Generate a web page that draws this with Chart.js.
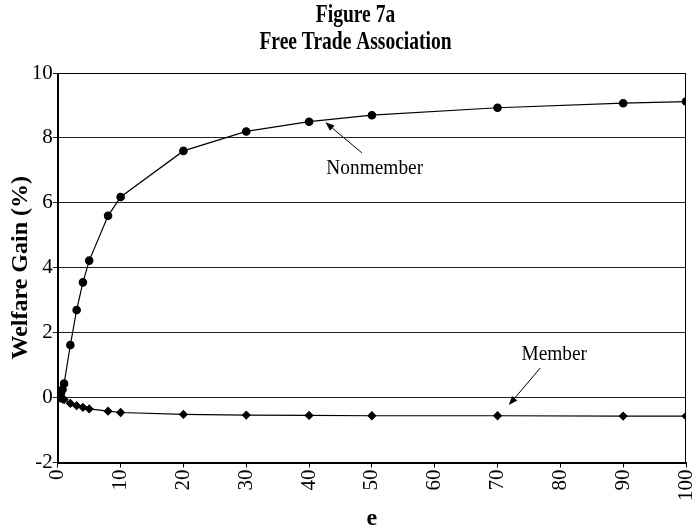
<!DOCTYPE html>
<html>
<head>
<meta charset="utf-8">
<script src="https://cdn.jsdelivr.net/npm/chart.js@4"></script>
<style>
  html, body { margin: 0; padding: 0; background: #fff; }
</style>
</head>
<body>
<canvas id="chartWelfare" width="695" height="531"></canvas>
<script>
// e values shared by both series
const eValues = [0.25, 0.5, 0.75, 1, 2, 3, 4, 5, 8, 10, 20, 30, 40, 50, 70, 90, 100];
const nonmemberGain = [0.04, 0.13, 0.25, 0.43, 1.62, 2.7, 3.55, 4.22, 5.6, 6.18, 7.6, 8.2, 8.5, 8.7, 8.93, 9.07, 9.12];
const memberGain = [0, -0.02, -0.04, -0.06, -0.18, -0.25, -0.3, -0.35, -0.42, -0.46, -0.52, -0.54, -0.55, -0.56, -0.56, -0.57, -0.57];
const titleLines = ["Figure 7a", "Free Trade Association"];
const yTicks = [-2, 0, 2, 4, 6, 8, 10];
const xTicks = [0, 10, 20, 30, 40, 50, 60, 70, 80, 90, 100];

// annotation labels with arrow (tail -> tip), in data units
const notes = [
    { text: "Nonmember", at: [42.75, 7.08], tail: [48.4, 7.54], tip: [42.6, 8.48] },
    { text: "Member", at: [73.8, 1.34], tail: [76.8, 0.91], tip: [71.8, -0.23] }
];

const serif = "'Liberation Serif', 'Times New Roman', serif";

function toPoints(ys) {
    return eValues.map(function (e, i) { return { x: e, y: ys[i] }; });
}

// the original uses a narrow Times, so squeeze text horizontally
function narrowText(ctx, text, x, y, squeeze, align) {
    ctx.save();
    ctx.translate(x, y);
    ctx.scale(squeeze, 1);
    ctx.textAlign = align;
    ctx.fillText(text, 0, 0);
    ctx.restore();
}

const titleAndNotes = {
    id: "titleAndNotes",
    afterDatasetsDraw(chart) {
        const ctx = chart.ctx;
        const a = chart.chartArea;
        const sx = chart.scales.x, sy = chart.scales.y;
        ctx.save();
        ctx.strokeStyle = "#000";
        ctx.lineWidth = 1;
        ctx.strokeRect(Math.round(a.left) + 0.5, Math.round(a.top) + 0.5,
            Math.round(a.right - a.left) - 1, Math.round(a.bottom - a.top));

        // title
        ctx.fillStyle = "#000";
        ctx.textBaseline = "alphabetic";
        ctx.font = "bold 25px " + serif;
        narrowText(ctx, titleLines[0], chart.width / 2 + 8, 22, 0.78, "center");
        narrowText(ctx, titleLines[1], chart.width / 2 + 8, 49, 0.78, "center");

        // notes with arrows
        ctx.font = "22px " + serif;
        ctx.textBaseline = "middle";
        notes.forEach(function (n) {
            narrowText(ctx, n.text, sx.getPixelForValue(n.at[0]), sy.getPixelForValue(n.at[1]), 0.88, "left");
            const x1 = sx.getPixelForValue(n.tail[0]), y1 = sy.getPixelForValue(n.tail[1]);
            const x2 = sx.getPixelForValue(n.tip[0]), y2 = sy.getPixelForValue(n.tip[1]);
            const ang = Math.atan2(y2 - y1, x2 - x1);
            const len = 9, half = 3.5;
            ctx.beginPath();
            ctx.moveTo(x1, y1);
            ctx.lineTo(x2 - Math.cos(ang) * len, y2 - Math.sin(ang) * len);
            ctx.stroke();
            ctx.beginPath();
            ctx.moveTo(x2, y2);
            ctx.lineTo(x2 - Math.cos(ang) * len - Math.sin(ang) * half, y2 - Math.sin(ang) * len + Math.cos(ang) * half);
            ctx.lineTo(x2 - Math.cos(ang) * len + Math.sin(ang) * half, y2 - Math.sin(ang) * len - Math.cos(ang) * half);
            ctx.closePath();
            ctx.fill();
        });
        ctx.restore();
    }
};

const ctx = document.getElementById("chartWelfare").getContext("2d");
const welfareChart = new Chart(ctx, {
    type: "line",
    data: {
        datasets: [{
            label: "Nonmember",
            data: toPoints(nonmemberGain),
            borderColor: "#000",
            backgroundColor: "#000",
            borderWidth: 1.2,
            pointStyle: "circle",
            pointRadius: 3.7,
            tension: 0
        }, {
            label: "Member",
            data: toPoints(memberGain),
            borderColor: "#000",
            backgroundColor: "#000",
            borderWidth: 1.2,
            pointStyle: "rectRot",
            pointRadius: 3.8,
            tension: 0
        }]
    },
    options: {
        responsive: false,
        animation: false,
        layout: { padding: { top: 73, right: 9, left: 9, bottom: 0 } },
        plugins: {
            legend: { display: false },
            tooltip: { enabled: false },
            title: { display: false }
        },
        scales: {
            x: {
                type: "linear",
                min: 0,
                max: 100,
                afterBuildTicks: function (axis) {
                    axis.ticks = xTicks.map(function (v) { return { value: v }; });
                },
                afterFit: function (axis) {
                    axis.paddingRight = 0;
                    axis.paddingLeft = 0;
                },
                ticks: {
                    autoSkip: false,
                    minRotation: 90,
                    maxRotation: 90,
                    padding: 2,
                    color: "#000",
                    font: { family: serif, size: 21 }
                },
                grid: { drawOnChartArea: false, tickLength: 5, color: "#000" },
                border: { color: "#000", width: 1 },
                title: {
                    display: true,
                    text: "e",
                    color: "#000",
                    font: { family: serif, size: 24, weight: "bold", lineHeight: 1.0 },
                    padding: { top: 4, bottom: 0 }
                }
            },
            y: {
                type: "linear",
                min: -2,
                max: 10,
                afterBuildTicks: function (axis) {
                    axis.ticks = yTicks.map(function (v) { return { value: v }; });
                },
                afterFit: function (axis) {
                    axis.paddingTop = 0;
                    axis.paddingBottom = 0;
                },
                ticks: {
                    padding: 0,
                    color: "#000",
                    font: { family: serif, size: 21 }
                },
                grid: { color: "#222", lineWidth: 1, tickLength: 5 },
                border: { color: "#000", width: 1 },
                title: {
                    display: true,
                    text: "Welfare Gain (%)",
                    color: "#000",
                    font: { family: serif, size: 24, weight: "bold", lineHeight: 0.95 },
                    padding: { top: 0, bottom: 0 }
                }
            }
        }
    },
    plugins: [titleAndNotes]
});
</script>
</body>
</html>
